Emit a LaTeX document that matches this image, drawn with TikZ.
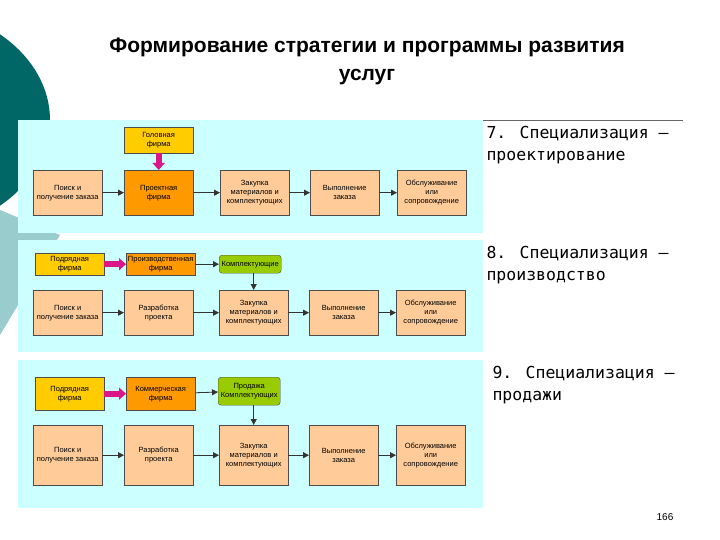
\documentclass[tikz,border=0pt]{standalone}
\usepackage{fontspec}
\setmainfont{Liberation Sans}
\newfontfamily\monof{DejaVu Sans Mono}
\usetikzlibrary{arrows.meta}
\definecolor{panel}{HTML}{CCFFFF}
\definecolor{peach}{HTML}{FFCC99}
\definecolor{dorange}{HTML}{FF9900}
\definecolor{yel}{HTML}{FFCC00}
\definecolor{grn}{HTML}{99CC00}
\definecolor{tealD}{HTML}{006666}
\definecolor{tealL}{HTML}{99CCCC}
\begin{document}
\begin{tikzpicture}[x=1pt,y=-1pt,
 bx/.style={draw=black!70,fill=peach,minimum width=69pt,minimum height=45pt,align=center,inner sep=1pt,font=\fontsize{7.5}{9}\selectfont,anchor=north west},
 tb/.style={bx,minimum height=26pt},
 gb/.style={draw=black!70,fill=grn,rounded corners=3pt,align=center,inner sep=1pt,font=\fontsize{7.5}{9}\selectfont,anchor=north west,minimum width=62pt},
 ar/.style={-{Triangle[length=6pt,width=6pt]},thick,black!80},
 pk/.style={line width=6pt,magenta!80!violet,-{Triangle[length=7pt,width=12pt]}},
 rt/.style={align=left,anchor=north west,font=\monof\fontsize{16.5}{22}\selectfont}]
\useasboundingbox (0,0) rectangle (720,540);
\fill[white] (0,0) rectangle (720,540);
% decorative left
\fill[tealL] (0,210) -- (60,235) -- (0,335) -- cycle;
\fill[tealD] (-100,120) ellipse (150 and 115);
% title
\node[font=\bfseries\fontsize{21}{28}\selectfont,align=center] (title) at (367,61) {Формирование стратегии и программы развития\\услуг};
\draw[black!60] (483,120) -- (683,120);
% panels
\fill[panel] (18,120) rectangle (483,233);
\fill[panel] (18,240) rectangle (483,352);
\fill[panel] (18,360) rectangle (483,508);
% right labels
\node[rt] (l7) at (483,123) {7. Специализация –\\проектирование};
\node[rt] (l8) at (483,243) {8. Специализация –\\производство};
\node[rt] (l9) at (489,363) {9. Специализация –\\продажи};
\node[font=\fontsize{10}{12}\selectfont] (pg) at (665,517) {166};
% panel 1
\node[tb,fill=yel] (g1) at (124,127) {Головная\\фирма};
\node[bx] (a1) at (33,170) {Поиск и\\получение заказа};
\node[bx,fill=dorange] (b1) at (124,170) {Проектная\\фирма};
\node[bx] (c1) at (220,170) {Закупка\\материалов и\\комплектующих};
\node[bx] (d1) at (310,170) {Выполнение\\заказа};
\node[bx] (e1) at (397,170) {Обслуживание\\или\\сопровождение};
\draw[pk] (g1) -- (b1);
\draw[ar] (a1) -- (b1); \draw[ar] (b1) -- (c1); \draw[ar] (c1) -- (d1); \draw[ar] (d1) -- (e1);
% panel 2
\node[tb,minimum height=22pt,fill=yel] (g2) at (35,253) {Подрядная\\фирма};
\node[tb,minimum height=22pt,fill=dorange] (p2) at (126,253) {Производственная\\фирма};
\node[gb,minimum height=18pt] (k2) at (219,255) {Комплектующие};
\node[bx] (a2) at (33,290) {Поиск и\\получение заказа};
\node[bx] (b2) at (124,290) {Разработка\\проекта};
\node[bx] (c2) at (219,290) {Закупка\\материалов и\\комплектующих};
\node[bx] (d2) at (309,290) {Выполнение\\заказа};
\node[bx] (e2) at (396,290) {Обслуживание\\или\\сопровождение};
\draw[pk] (g2) -- (p2);
\draw[ar] (p2) -- (k2); \draw[ar] (k2.south -| c2.north) -- (c2);
\draw[ar] (a2) -- (b2); \draw[ar] (b2) -- (c2); \draw[ar] (c2) -- (d2); \draw[ar] (d2) -- (e2);
% panel 3
\node[tb,minimum height=33pt,fill=yel] (g3) at (35,377) {Подрядная\\фирма};
\node[tb,minimum height=33pt,fill=dorange] (p3) at (126,377) {Коммерческая\\фирма};
\node[gb,minimum height=28pt] (k3) at (218,377) {Продажа\\Комплектующих};
\node[bx,minimum height=60pt] (a3) at (33,425) {Поиск и\\получение заказа};
\node[bx,minimum height=60pt] (b3) at (124,425) {Разработка\\проекта};
\node[bx,minimum height=60pt] (c3) at (219,425) {Закупка\\материалов и\\комплектующих};
\node[bx,minimum height=60pt] (d3) at (309,425) {Выполнение\\заказа};
\node[bx,minimum height=60pt] (e3) at (396,425) {Обслуживание\\или\\сопровождение};
\draw[pk] (g3) -- (p3);
\draw[ar] (p3) -- (k3); \draw[ar] (k3.south -| c3.north) -- (c3);
\draw[ar] (a3) -- (b3); \draw[ar] (b3) -- (c3); \draw[ar] (c3) -- (d3); \draw[ar] (d3) -- (e3);
\end{tikzpicture}
\end{document}
